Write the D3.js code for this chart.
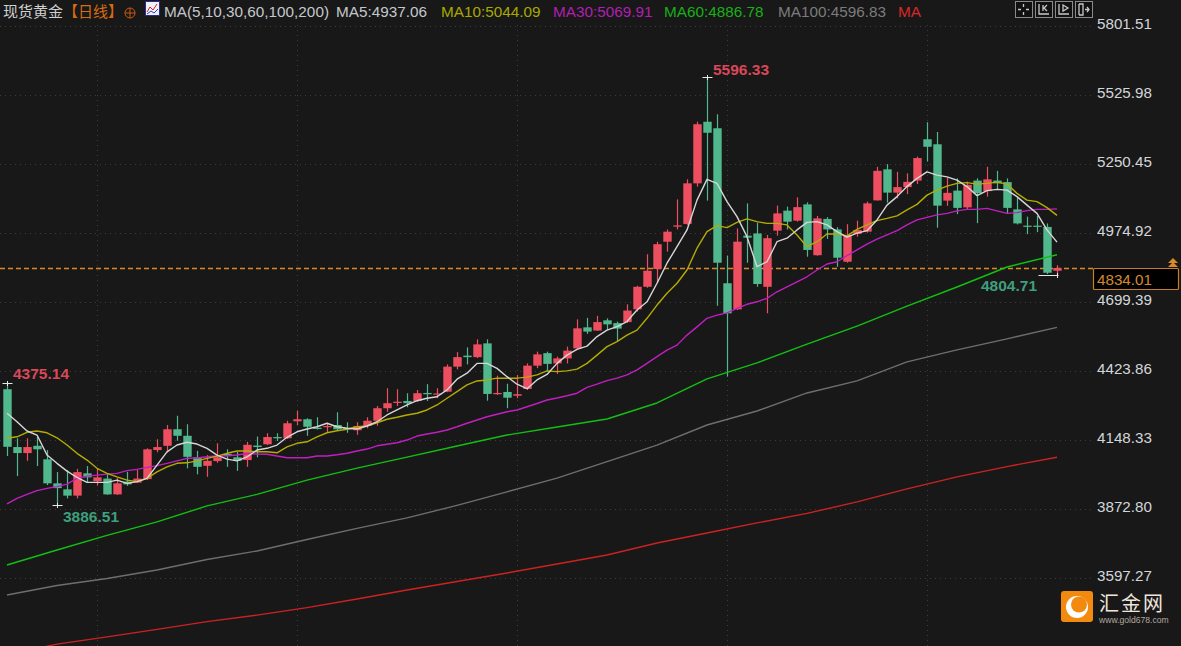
<!DOCTYPE html>
<html>
<head>
<meta charset="utf-8">
<script src="https://cdn.jsdelivr.net/npm/d3@7"></script>
<style>
  html, body { margin: 0; padding: 0; background: #181818; overflow: hidden; }
  svg { display: block; font-family: "Liberation Sans", Arial, sans-serif; }
</style>
</head>
<body>
<svg width="1181" height="646"></svg>
<script>
// candles, one per trading day
const open = [4350,4119,4095,4124,4070,3974,3950,3925,4014,3983,3993,3930,3981,3977,3991,4107,4124,4190,4164,4078,4044,4063,4092,4078,4067,4125,4130,4159,4154,4222,4230,4196,4199,4207,4195,4186,4203,4224,4274,4295,4303,4303,4335,4329,4340,4440,4484,4478,4533,4330,4339,4324,4351,4444,4494,4453,4473,4513,4597,4584,4625,4614,4618,4669,4759,4830,4939,4999,5010,5172,5418,5392,4773,4669,4963,4972,4759,4983,5063,5023,5088,4885,5030,4988,4859,4970,4979,5104,5228,5135,5157,5183,5348,5328,5103,5143,5076,5183,5141,5183,5177,5068,5003,5003,4998,4823];
const high = [4375.14,4154,4154,4159,4107,4019,4027,4032,4043,4032,4014,3995,4020,4027,4114,4150,4207,4244,4210,4104,4087,4134,4110,4100,4140,4161,4174,4174,4224,4264,4234,4238,4216,4258,4218,4218,4238,4283,4354,4350,4334,4347,4370,4354,4449,4498,4517,4549,4549,4404,4372,4407,4453,4500,4500,4480,4520,4629,4635,4643,4633,4620,4689,4763,4889,4939,4988,5108,5188,5418,5596.33,5448,4883,4992,5092,5015,4966,5083,5079,5116,5096,5042,5037,4997,5009,5023,5099,5238,5249,5218,5212,5279,5416,5377,5194,5192,5179,5192,5238,5222,5192,5116,5039,5042,5012,4845];
const low = [4083,4003,4064,4043,3967,3886.51,3914,3914,3977,3966,3928,3928,3964,3975,3987,4098,4098,4144,4034,4010,4000,4056,4040,4024,4040,4078,4127,4143,4151,4207,4164,4189,4176,4187,4176,4168,4194,4204,4260,4283,4278,4299,4303,4314,4338,4429,4449,4474,4304,4327,4274,4314,4347,4434,4423,4411,4453,4510,4571,4583,4586,4540,4615,4660,4755,4773,4899,4988,5006,5159,5103,4683,4400,4666,4855,4759,4653,4963,4988,5019,4879,4883,4950,4839,4855,4959,4975,5103,5095,5112,5129,5169,5259,4995,5082,5049,5068,5013,5119,5146,5053,5008,4969,4977,4810,4804.71];
const close = [4120,4095,4119,4110,3974,3955,3925,4019,3998,3998,3930,3974,3970,3993,4110,4119,4190,4164,4080,4040,4064,4078,4083,4064,4128,4119,4159,4154,4214,4230,4200,4192,4203,4190,4190,4203,4224,4274,4294,4300,4294,4334,4330,4333,4440,4478,4478,4529,4331,4335,4316,4330,4444,4489,4451,4473,4504,4593,4580,4618,4609,4592,4664,4759,4823,4929,4979,5004,5172,5408,5374,4855,4653,4939,4955,4770,4953,5052,5019,5077,4906,5032,4988,4875,4966,4986,5092,5222,5135,5157,5178,5273,5318,5083,5134,5074,5166,5133,5188,5172,5074,5012,4999,4999,4815,4834.01];

// moving averages with a value on every candle
const ma5 = [4254,4220,4183,4167,4087,4054,4023,3998,3978,3978,3978,3987,3974,3981,3994,4047,4100,4127,4138,4131,4114,4087,4071,4064,4080,4107,4114,4127,4158,4180,4191,4200,4214,4200,4194,4191,4203,4220,4247,4267,4287,4304,4314,4320,4347,4390,4414,4453,4453,4433,4400,4370,4352,4387,4409,4453,4486,4509,4522,4560,4586,4600,4620,4666,4699,4773,4853,4919,4986,5105,5188,5172,5099,5039,4959,4839,4859,4939,4953,4986,5016,5019,5006,4979,4957,4973,4983,5026,5085,5119,5159,5192,5218,5205,5198,5185,5159,5123,5143,5148,5145,5119,5085,5052,4986,4937.06];
const ma10 = [4154,4160,4178,4183,4176,4156,4127,4094,4067,4034,4014,4000,3987,3981,3994,4020,4040,4054,4056,4064,4074,4083,4094,4103,4103,4100,4100,4096,4120,4134,4140,4160,4176,4184,4190,4200,4203,4216,4230,4238,4247,4254,4267,4287,4314,4340,4367,4383,4387,4394,4394,4394,4398,4407,4423,4420,4423,4430,4453,4486,4520,4540,4566,4586,4633,4686,4733,4773,4826,4913,4979,5003,4995,5016,5030,5019,5012,5012,5006,4966,4919,4939,4970,4970,4962,4988,5006,5023,5032,5042,5066,5088,5125,5145,5161,5172,5175,5169,5172,5177,5169,5132,5105,5099,5075,5044.09];
const ma30 = [3892,3914,3930,3945,3954,3961,3971,3994,4003,4007,4011,4014,4025,4030,4038,4045,4054,4064,4074,4075,4080,4083,4084,4087,4093,4091,4090,4083,4076,4076,4076,4083,4083,4088,4094,4103,4111,4124,4130,4136,4147,4163,4171,4178,4187,4200,4214,4227,4240,4250,4260,4267,4280,4293,4307,4315,4324,4334,4357,4370,4384,4394,4407,4427,4453,4480,4506,4526,4566,4599,4633,4646,4655,4673,4689,4699,4713,4739,4759,4779,4799,4826,4850,4859,4883,4906,4929,4949,4966,4983,5006,5026,5036,5046,5052,5062,5068,5068,5072,5062,5052,5055,5063,5068,5068,5069.91];

// slow averages, read on every fifth candle
const slowIndex = d3.range(0, 106, 5);
const ma60 = [3648,3708,3766,3820,3884,3930,3987,4035,4079,4123,4167,4199,4231,4295,4391,4455,4530,4602,4682,4758,4838,4886.78];
const ma100 = [3528,3566,3594,3628,3670,3704,3750,3794,3836,3886,3940,3995,4061,4127,4207,4263,4335,4383,4459,4507,4551,4596.83];
const ma200 = [3290,3332,3361,3391,3422,3448,3478,3512,3548,3582,3616,3652,3688,3736,3776,3816,3854,3900,3952,4000,4041,4078];

const priceTicks = [5801.51,5525.98,5250.45,4974.92,4699.39,4423.86,4148.33,3872.80,3597.27];
const monthStarts = [9,29,51,72,92];   // candles with a vertical grid line
const lastPrice = 4834.01;

const legendTexts = ["MA(5,10,30,60,100,200)","MA5:4937.06","MA10:5044.09","MA30:5069.91","MA60:4886.78","MA100:4596.83","MA"];
const legendX = [164,336,441,553,664,778,898];
const legendColors = ["#c4c8cc","#c4c8cc","#a8a800","#b020b0","#18b018","#7c7c7c","#d82828"];

const width = 1181, height = 646;
const svg = d3.select("svg");

const x = d3.scaleLinear().domain([0, 105]).range([7, 1057]);
const y = d3.scaleLinear().domain([3597.27, 5801.51]).range([577.7, 25.7]);

const upColor = "#ee4f60", downColor = "#50b88c";

// grid
svg.append("g").selectAll("line").data(priceTicks).join("line")
    .attr("x1", 0).attr("x2", 1093)
    .attr("y1", d => Math.round(y(d)) + 0.5).attr("y2", d => Math.round(y(d)) + 0.5)
    .attr("stroke", "#3c3c3c").attr("stroke-dasharray", "1,4");

svg.append("g").selectAll("line").data(monthStarts).join("line")
    .attr("x1", d => x(d) + 0.5).attr("x2", d => x(d) + 0.5)
    .attr("y1", 25).attr("y2", height)
    .attr("stroke", "#3c3c3c").attr("stroke-dasharray", "1,4");

// orange line at the last price
svg.append("line")
    .attr("x1", 0).attr("x2", 1094)
    .attr("y1", Math.round(y(lastPrice)) + 0.5).attr("y2", Math.round(y(lastPrice)) + 0.5)
    .attr("stroke", "#d98a26").attr("stroke-width", 1.3).attr("stroke-dasharray", "5,3");

// candles
const candles = svg.append("g").selectAll("g").data(open).join("g")
    .attr("fill", (d, i) => close[i] >= d ? upColor : downColor)
    .attr("stroke", (d, i) => close[i] >= d ? upColor : downColor);

candles.append("line")
    .attr("x1", (d, i) => x(i) + 0.5).attr("x2", (d, i) => x(i) + 0.5)
    .attr("y1", (d, i) => y(high[i])).attr("y2", (d, i) => y(low[i]))
    .attr("stroke-width", 1.2);

candles.append("rect")
    .attr("x", (d, i) => x(i) - 3.7)
    .attr("width", 8.4)
    .attr("y", (d, i) => y(Math.max(d, close[i])))
    .attr("height", (d, i) => Math.max(1.2, Math.abs(y(d) - y(close[i]))))
    .attr("stroke", "none");

// moving average lines
const dailyLine = d3.line().x((d, i) => x(i)).y(d => y(d));
const slowLine = d3.line().x((d, i) => x(slowIndex[i])).y(d => y(d));

const lines = [
    { gen: slowLine, values: ma200, color: "#cc2222" },
    { gen: slowLine, values: ma100, color: "#6e6e6e" },
    { gen: slowLine, values: ma60, color: "#12c012" },
    { gen: dailyLine, values: ma30, color: "#c01fc0" },
    { gen: dailyLine, values: ma10, color: "#b4ac00" },
    { gen: dailyLine, values: ma5, color: "#d6d6d6" }
];
lines.forEach(l => {
    svg.append("path")
        .attr("fill", "none")
        .attr("stroke", l.color)
        .attr("stroke-width", 1.4)
        .attr("stroke-linejoin", "round")
        .attr("d", l.gen(l.values));
});

// high / low markers
const extremes = [
    { i: 0, v: high[0], text: "4375.14", tx: 13, ty: 378.5, color: "#d84858", dir: 0 },
    { i: 5, v: low[5], text: "3886.51", tx: 63, ty: 521.5, color: "#3f9f7e", dir: 0 },
    { i: 70, v: high[70], text: "5596.33", tx: 713, ty: 74.5, color: "#d84858", dir: 0 },
    { i: 105, v: low[105], text: "4804.71", tx: 981, ty: 290.5, color: "#3f9f7e", dir: 1 }
];
extremes.forEach(e => {
    const px = x(e.i) + 0.5, py = Math.round(y(e.v)) + 0.5;
    svg.append("line").attr("x1", e.dir ? px - 19 : px - 5).attr("x2", e.dir ? px + 1 : px + 5)
        .attr("y1", py).attr("y2", py).attr("stroke", "#e8e8e8");
    svg.append("line").attr("x1", px).attr("x2", px)
        .attr("y1", py - 2.5).attr("y2", py + 2.5).attr("stroke", "#e8e8e8");
    svg.append("text").attr("x", e.tx).attr("y", e.ty)
        .attr("fill", e.color).attr("font-size", 15.5).attr("font-weight", "bold").text(e.text);
});

// price axis on the right
const axis = svg.append("g")
    .attr("transform", "translate(1093,0)")
    .call(d3.axisRight(y).tickValues(priceTicks).tickSize(0).tickPadding(4).tickFormat(d3.format(".2f")));
axis.select(".domain").remove();
axis.selectAll("text")
    .attr("fill", "#d2d6da")
    .attr("font-size", 15.2)
    .attr("font-family", "Liberation Sans, Arial, sans-serif")
    .attr("dy", "0.18em");

// last price box
svg.append("rect").attr("x", 1093.5).attr("y", 268.5).attr("width", 85).attr("height", 21)
    .attr("fill", "#000").attr("stroke", "#c47f28").attr("stroke-width", 1.2).attr("rx", 1);
svg.append("text").attr("x", 1097).attr("y", 284.5)
    .attr("fill", "#d48a2c").attr("font-size", 15.2).text(d3.format(".2f")(lastPrice));
[258, 262].forEach(t => {
    svg.append("path").attr("d", `M${1173 - 5},${t + 5}L1173,${t}L${1173 + 5},${t + 5}Z`).attr("fill", "#d98a26");
});

// header
svg.append("text").attr("x", 3).attr("y", 17).attr("fill", "#d0d0d0").attr("font-size", 15)
    .attr("font-family", "Noto Sans CJK SC").text("现货黄金");
svg.append("text").attr("x", 63).attr("y", 17).attr("fill", "#d86a10").attr("font-size", 15)
    .attr("font-family", "Noto Sans CJK SC").text("【日线】");
svg.append("circle").attr("cx", 130).attr("cy", 13).attr("r", 5).attr("fill", "none").attr("stroke", "#c85a10");
svg.append("path").attr("d", "M125,13H135M130,8V18").attr("stroke", "#c85a10").attr("fill", "none");

// little MA icon
const icon = svg.append("g").attr("transform", "translate(145,1)");
icon.append("rect").attr("x", 0.5).attr("y", 0.5).attr("width", 14).attr("height", 14)
    .attr("fill", "#f0f0f8").attr("stroke", "#2a2a90");
icon.append("path").attr("d", "M2,11L5,6L8,9L12,3").attr("fill", "none").attr("stroke", "#d82020");
icon.append("path").attr("d", "M2,13L6,10L9,12L13,8").attr("fill", "none").attr("stroke", "#2040c0");

svg.append("g").selectAll("text").data(legendTexts).join("text")
    .attr("x", (d, i) => legendX[i]).attr("y", 17)
    .attr("fill", (d, i) => legendColors[i])
    .attr("font-size", 15.3)
    .text(d => d);

// toolbar buttons
const buttons = svg.append("g").selectAll("g").data([1015, 1035, 1055, 1075]).join("g")
    .attr("transform", d => `translate(${d},1)`);
buttons.append("rect").attr("x", 0.5).attr("y", 0.5).attr("width", 17).attr("height", 16)
    .attr("fill", "#111").attr("stroke", "#8a8a8a");
buttons.append("path")
    .attr("d", (d, i) => [
        "M8.5,3V6M8.5,11V14M3,8.5H6M11,8.5H14",
        "M4,3V13H14M8,4V10M12,4L9,7L12,10",
        "M4,3V13H14M8,4L13,7L8,10Z",
        "M4,3V14M4,3H8V14H4M10,8.5H14M12,6L14,8.5L12,11"
    ][i])
    .attr("fill", "none").attr("stroke", "#c8c8c8").attr("stroke-width", 1.3);

// watermark
const logo = svg.append("g").attr("transform", "translate(1061,591)");
logo.append("rect").attr("width", 32).attr("height", 31).attr("rx", 3).attr("fill", "#f28a10");
logo.append("circle").attr("cx", 16).attr("cy", 16).attr("r", 11).attr("fill", "#fff");
logo.append("circle").attr("cx", 18).attr("cy", 13.5).attr("r", 8).attr("fill", "#f28a10");
svg.append("text").attr("x", 1099).attr("y", 611).attr("fill", "#eee6dc").attr("font-size", 20)
    .attr("letter-spacing", 2).attr("font-family", "Noto Sans CJK SC").text("汇金网");
svg.append("text").attr("x", 1099).attr("y", 623).attr("fill", "#b0a89e").attr("font-size", 8.6)
    .text("www.gold678.com");
</script>
</body>
</html>
